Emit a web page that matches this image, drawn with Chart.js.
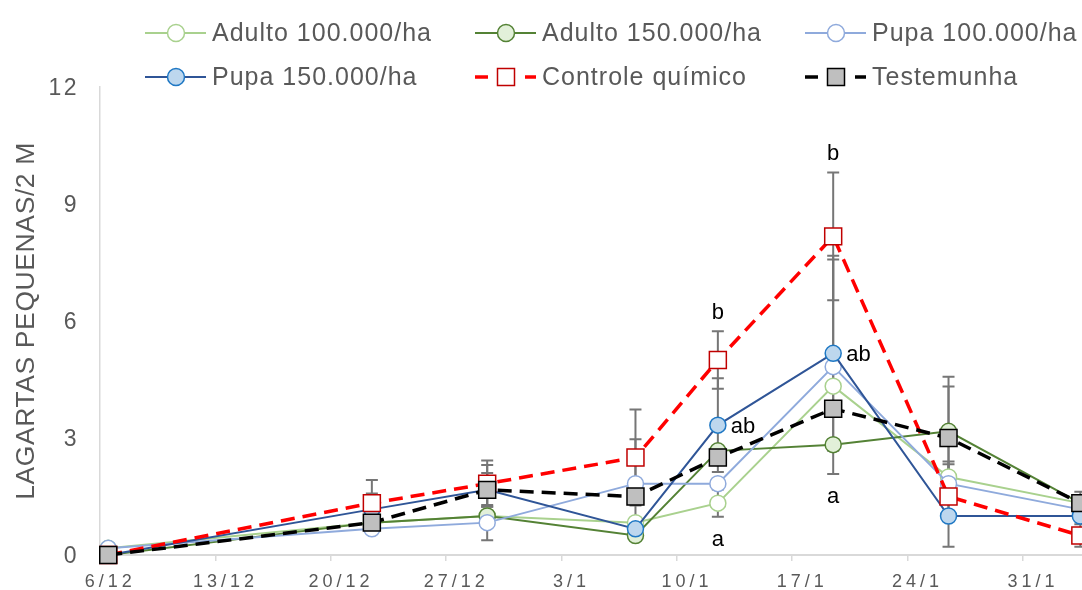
<!DOCTYPE html>
<html>
<head>
<meta charset="utf-8">
<script src="https://cdn.jsdelivr.net/npm/chart.js@4.4.1/dist/chart.umd.min.js"></script>
<style>
  html, body { margin: 0; padding: 0; overflow: hidden; background: #fff; width: 1082px; height: 590px; }
  #wrap { position: relative; width: 1138px; height: 590px; }
</style>
</head>
<body>
<div id="wrap"><canvas id="c" width="1138" height="590"></canvas></div>
<script>
// ---- data -------------------------------------------------------------
// x values are days counted from 6/12
const dateLabels = ['6/12', '13/12', '20/12', '27/12', '3/1', '10/1', '17/1', '24/1', '31/1'];
const labelDays  = [0, 7, 14, 21, 28, 35, 42, 49, 56];
const yTicks     = [0, 3, 6, 9, 12];
const yTitle     = 'LAGARTAS PEQUENAS/2 M';

const sampleDays = [0, 16, 23, 32, 37, 44, 51, 59];

const seriesNames = ['Adulto 100.000/ha', 'Adulto 150.000/ha', 'Pupa 100.000/ha',
                     'Pupa 150.000/ha', 'Controle químico', 'Testemunha'];

const adulto100  = [0.17, 0.83, 1.00, 0.83, 1.33, 4.33, 2.00, 1.33];
const adulto150  = [0.00, 0.83, 1.00, 0.50, 2.67, 2.83, 3.17, 1.33];
const pupa100    = [0.17, 0.67, 0.83, 1.83, 1.83, 4.83, 1.83, 1.17];
const pupa150    = [0.00, 1.17, 1.67, 0.67, 3.33, 5.17, 1.00, 1.00];
const controle   = [0.00, 1.33, 1.83, 2.50, 5.00, 8.17, 1.50, 0.50];
const testemunha = [0.00, 0.83, 1.67, 1.50, 2.50, 3.75, 3.00, 1.33];

// symmetric error bar half-lengths (null = no bar)
const adulto100Err  = [null, null, null, null, 0.35, null, 0.40, null];
const adulto150Err  = [null, null, null, null, null, null, 1.40, null];
const pupa100Err    = [null, null, 0.45, 1.14, null, 2.75, 0.50, null];
const pupa150Err    = [null, 0.41, 0.64, null, 1.20, 2.50, 0.79, null];
const controleErr   = [null, 0.59, 0.59, 1.23, 0.74, 1.64, 0.45, 0.29];
const testemunhaErr = [null, null, 0.43, null, null, null, 1.32, 0.29];

// significance letters: series index, sample index, text, side
const letterSeries = [4, 4, 3, 3, 0, 1];
const letterIndex  = [4, 5, 4, 5, 4, 5];
const letterText   = ['b', 'b', 'ab', 'ab', 'a', 'a'];
const letterSide   = ['above', 'above', 'right', 'right', 'below', 'below'];

// ---- styling ----------------------------------------------------------
const FONT = '"Liberation Sans", Arial, Helvetica, sans-serif';
const TEXT_GREY = '#595959';
const AXIS_GREY = '#D9D9D9';
const ERR_GREY = '#767676';

const values = [adulto100, adulto150, pupa100, pupa150, controle, testemunha];
const errors = [adulto100Err, adulto150Err, pupa100Err, pupa150Err, controleErr, testemunhaErr];
const styles = [
  { line: '#A9D18E', fill: '#FFFFFF', edge: '#A9D18E', shape: 'circle', dashed: false },
  { line: '#548235', fill: '#E2F0D9', edge: '#548235', shape: 'circle', dashed: false },
  { line: '#8FAADC', fill: '#FFFFFF', edge: '#8FAADC', shape: 'circle', dashed: false },
  { line: '#2F5597', fill: '#BDD7EE', edge: '#1F78C4', shape: 'circle', dashed: false },
  { line: '#FF0000', fill: '#FFFFFF', edge: '#C00000', shape: 'rect',   dashed: true  },
  { line: '#000000', fill: '#BFBFBF', edge: '#000000', shape: 'rect',   dashed: true  }
];

const datasets = seriesNames.map((name, s) => {
  const st = styles[s];
  return {
    label: name,
    data: sampleDays.map((d, i) => ({ x: d, y: values[s][i] })),
    borderColor: st.line,
    borderWidth: st.dashed ? 3.5 : 2,
    borderDash: st.dashed ? [14, 8] : [],
    pointStyle: st.shape,
    pointRadius: st.shape === 'rect' ? 12 : 8,
    pointBackgroundColor: st.fill,
    pointBorderColor: st.edge,
    pointBorderWidth: 1.5,
    tension: 0,
    fill: false,
    clip: false,
    order: seriesNames.length - s   // later series drawn on top
  };
});

// ---- plugins ----------------------------------------------------------
const errorBars = {
  id: 'errorBars',
  beforeDatasetsDraw(chart) {
    const { ctx, scales: { x, y } } = chart;
    ctx.save();
    ctx.strokeStyle = ERR_GREY;
    ctx.lineWidth = 2;
    errors.forEach((errs, s) => {
      errs.forEach((e, i) => {
        if (e == null) return;
        const px = x.getPixelForValue(sampleDays[i]);
        const top = y.getPixelForValue(values[s][i] + e);
        const bot = y.getPixelForValue(Math.max(0, values[s][i] - e));
        ctx.beginPath();
        ctx.moveTo(px, top); ctx.lineTo(px, bot);
        ctx.moveTo(px - 6, top); ctx.lineTo(px + 6, top);
        ctx.moveTo(px - 6, bot); ctx.lineTo(px + 6, bot);
        ctx.stroke();
      });
    });
    ctx.restore();
  }
};

function drawMarker(ctx, shape, cx, cy, fill, edge) {
  ctx.fillStyle = fill;
  ctx.strokeStyle = edge;
  ctx.lineWidth = 1.5;
  ctx.beginPath();
  if (shape === 'circle') ctx.arc(cx, cy, 8.5, 0, Math.PI * 2);
  else ctx.rect(cx - 8.5, cy - 8.5, 17, 17);
  ctx.fill();
  ctx.stroke();
}

const overlay = {
  id: 'overlay',
  afterDatasetsDraw(chart) {
    const { ctx, scales: { x, y } } = chart;
    ctx.save();
    ctx.fillStyle = '#000';
    ctx.font = '22px ' + FONT;
    letterText.forEach((t, k) => {
      const s = letterSeries[k], i = letterIndex[k];
      const px = x.getPixelForValue(sampleDays[i]);
      if (letterSide[k] === 'right') {
        ctx.textAlign = 'left';
        ctx.fillText(t, px + 13, y.getPixelForValue(values[s][i]) + 8);
      } else {
        // place beyond the outermost error bar at that date
        let hi = -Infinity, lo = Infinity;
        values.forEach((v, j) => {
          const e = errors[j][i] || 0;
          hi = Math.max(hi, v[i] + e);
          lo = Math.min(lo, v[i] - e);
        });
        ctx.textAlign = 'center';
        if (letterSide[k] === 'above') ctx.fillText(t, px, y.getPixelForValue(hi) - 12);
        else ctx.fillText(t, px, y.getPixelForValue(lo) + 29);
      }
    });
    ctx.restore();
  },
  afterDraw(chart) {
    const { ctx, scales: { x, y } } = chart;
    ctx.save();
    ctx.fillStyle = TEXT_GREY;
    ctx.textBaseline = 'alphabetic';

    // x tick labels (at day centres)
    ctx.font = '18px ' + FONT;
    ctx.letterSpacing = '4px';
    ctx.textAlign = 'center';
    dateLabels.forEach((lab, k) => {
      ctx.fillText(lab, x.getPixelForValue(labelDays[k]) + 2, 587);
    });

    // y tick labels
    ctx.font = '23px ' + FONT;
    ctx.letterSpacing = '2.5px';
    ctx.textAlign = 'right';
    yTicks.forEach(v => {
      ctx.fillText(String(v), 79, y.getPixelForValue(v) + 8);
    });

    // y axis title
    ctx.font = '26.5px ' + FONT;
    ctx.letterSpacing = '0.6px';
    ctx.textAlign = 'center';
    ctx.save();
    ctx.translate(34, (y.top + y.bottom) / 2);
    ctx.rotate(-Math.PI / 2);
    ctx.fillText(yTitle, 0, 0);
    ctx.restore();

    // legend, 3 columns x 2 rows
    ctx.font = '25px ' + FONT;
    ctx.letterSpacing = '1px';
    ctx.textAlign = 'left';
    ctx.textBaseline = 'middle';
    chart.data.datasets.forEach((ds, s) => {
      const st = styles[s];
      const x0 = 145 + 330 * (s % 3);
      const cy = 33 + 44 * Math.floor(s / 3);
      ctx.strokeStyle = st.line;
      ctx.setLineDash([]);
      ctx.beginPath();
      if (st.dashed) {
        ctx.lineWidth = 3.5;
        ctx.moveTo(x0, cy); ctx.lineTo(x0 + 13, cy);
        ctx.moveTo(x0 + 50, cy); ctx.lineTo(x0 + 61, cy);
      } else {
        ctx.lineWidth = 2;
        ctx.moveTo(x0, cy); ctx.lineTo(x0 + 61, cy);
      }
      ctx.stroke();
      drawMarker(ctx, st.shape, x0 + 31, cy, st.fill, st.edge);
      ctx.fillStyle = TEXT_GREY;
      ctx.fillText(ds.label, x0 + 67, cy + 1);
    });
    ctx.restore();
  }
};

// ---- chart ------------------------------------------------------------
new Chart(document.getElementById('c'), {
  type: 'line',
  data: { datasets },
  options: {
    responsive: false,
    animation: false,
    devicePixelRatio: 1,
    layout: { autoPadding: false, padding: { top: 87, left: 0, right: 0, bottom: 0 } },
    plugins: { legend: { display: false }, tooltip: { enabled: false } },
    scales: {
      x: {
        type: 'linear',
        min: -0.5,
        max: 62.5,
        afterBuildTicks: s => { s.ticks = labelDays.slice(1).map(d => ({ value: d - 0.5 })); },
        ticks: { display: false },
        grid: { display: true, drawOnChartArea: false, drawTicks: true, tickLength: 6, color: AXIS_GREY, lineWidth: 1.5 },
        border: { display: true, color: AXIS_GREY, width: 2 },
        afterFit: s => { s.height = 35; }
      },
      y: {
        min: 0,
        max: 12,
        afterBuildTicks: s => { s.ticks = yTicks.map(v => ({ value: v })); },
        ticks: { display: false },
        grid: { display: true, drawOnChartArea: false, drawTicks: false },
        border: { display: true, color: AXIS_GREY, width: 1.5 },
        afterFit: s => { s.width = 100; }
      }
    }
  },
  plugins: [errorBars, overlay]
});
</script>
</body>
</html>
